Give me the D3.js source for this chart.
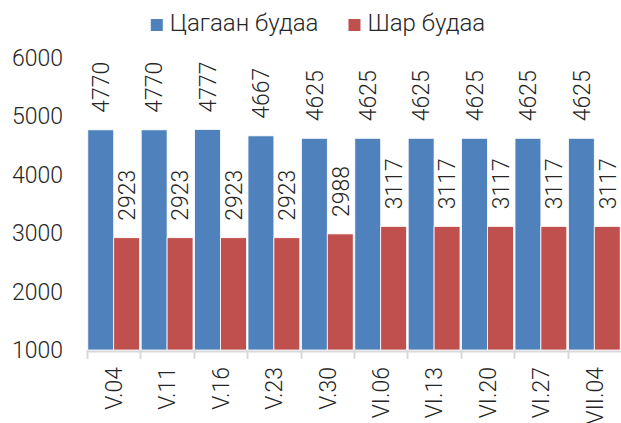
<!DOCTYPE html>
<html>
<head>
<meta charset="utf-8">
<script src="https://cdn.jsdelivr.net/npm/d3@7"></script>
<style>
    body { margin: 0; background: #fff; }
    text { font-family: Roboto, sans-serif; font-weight: 300; fill: #262626; }
</style>
</head>
<body>
<div id="chart"></div>
<script>
    var categories = ["V.04", "V.11", "V.16", "V.23", "V.30", "VI.06", "VI.13", "VI.20", "VI.27", "VII.04"];
    var seriesNames = ["Цагаан будаа", "Шар будаа"];
    var whiteRice = [4770, 4770, 4777, 4667, 4625, 4625, 4625, 4625, 4625, 4625];
    var yellowRice = [2923, 2923, 2923, 2923, 2988, 3117, 3117, 3117, 3117, 3117];
    var yTicks = [1000, 2000, 3000, 4000, 5000, 6000];
    var colors = ["#4F81BD", "#C0504D"];

    var width = 621, height = 423;
    var margin = { top: 58, right: 0, bottom: 73, left: 87 };

    var rows = categories.map(function (c, i) {
        return { cat: c, values: [whiteRice[i], yellowRice[i]] };
    });

    var svg = d3.select("#chart")
        .append("svg")
        .attr("width", width)
        .attr("height", height);

    var x = d3.scaleBand()
        .domain(categories)
        .range([margin.left, width - margin.right])
        .paddingInner(0.03)
        .paddingOuter(0.015);

    var xSub = d3.scaleBand()
        .domain([0, 1])
        .range([0, x.bandwidth()]);

    var y = d3.scaleLinear()
        .domain([1000, 6000])
        .range([height - margin.bottom, margin.top]);

    // y tick labels, no axis line
    svg.append("g")
        .selectAll("text")
        .data(yTicks)
        .enter().append("text")
        .attr("x", 63)
        .attr("y", function (d) { return y(d); })
        .attr("dy", "0.35em")
        .attr("text-anchor", "end")
        .style("font-size", "23px")
        .text(function (d) { return d; });

    // bars
    var groups = svg.append("g")
        .selectAll("g")
        .data(rows)
        .enter().append("g")
        .attr("transform", function (d) { return "translate(" + x(d.cat) + ",0)"; });

    groups.selectAll("rect")
        .data(function (d) { return d.values; })
        .enter().append("rect")
        .attr("x", function (d, i) { return xSub(i); })
        .attr("y", function (d) { return y(d); })
        .attr("width", xSub.bandwidth())
        .attr("height", function (d) { return y(1000) - y(d); })
        .style("fill", function (d, i) { return colors[i]; })
        .style("stroke", "#fff")
        .style("stroke-width", 0.8);

    // value labels, rotated
    groups.selectAll("text.val")
        .data(function (d) { return d.values; })
        .enter().append("text")
        .attr("class", "val")
        .attr("transform", function (d, i) {
            return "translate(" + (xSub(i) + xSub.bandwidth() / 2) + "," + (y(d) - 17) + ") rotate(-90)";
        })
        .attr("dy", "0.36em")
        .attr("text-anchor", "start")
        .style("font-size", "23px")
        .text(function (d) { return d; });

    // x axis
    var xAxis = svg.append("g");
    xAxis.append("line")
        .attr("x1", margin.left)
        .attr("x2", width)
        .attr("y1", y(1000) + 1.5)
        .attr("y2", y(1000) + 1.5)
        .style("stroke", "#d9d9d9")
        .style("stroke-width", 2);

    var bounds = categories.map(function (c) { return x(c) - x.step() * x.paddingInner() / 2; });
    xAxis.selectAll("line.tick")
        .data(bounds)
        .enter().append("line")
        .attr("class", "tick")
        .attr("x1", function (d) { return Math.round(d) + 0.5; })
        .attr("x2", function (d) { return Math.round(d) + 0.5; })
        .attr("y1", y(1000))
        .attr("y2", y(1000) + 9)
        .style("stroke", "#d9d9d9")
        .style("stroke-width", 2);

    xAxis.selectAll("text")
        .data(categories)
        .enter().append("text")
        .attr("transform", function (d) {
            return "translate(" + (x(d) + x.bandwidth() / 2) + "," + (y(1000) + 17) + ") rotate(-90)";
        })
        .attr("dy", "0.36em")
        .attr("text-anchor", "end")
        .style("font-size", "23px")
        .text(function (d) { return d; });

    // legend
    var legend = svg.append("g");
    var items = legend.selectAll("g")
        .data(seriesNames)
        .enter().append("g");
    items.append("rect")
        .attr("width", 12)
        .attr("height", 12)
        .attr("y", 19)
        .style("fill", function (d, i) { return colors[i]; });
    items.append("text")
        .attr("x", 19)
        .attr("y", 31)
        .style("font-size", "24px")
        .text(function (d) { return d; });

    var offsets = [], pos = 0;
    items.each(function () {
        offsets.push(pos);
        pos += this.getBBox().width + 30;
    });
    var total = pos - 30;
    var start = 318 - total / 2;
    items.attr("transform", function (d, i) { return "translate(" + (start + offsets[i]) + ",0)"; });
</script>
</body>
</html>
